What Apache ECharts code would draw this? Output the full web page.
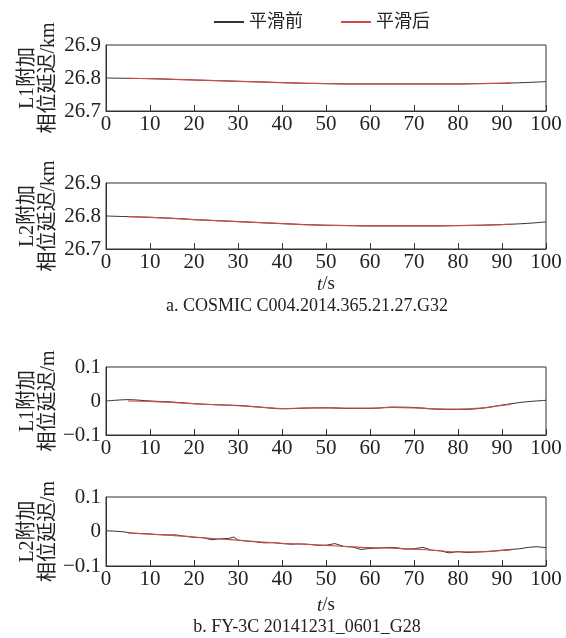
<!DOCTYPE html>
<html lang="zh">
<head>
    <meta charset="UTF-8">
    <title>平滑前后附加相位延迟</title>
    <script src="https://cdn.jsdelivr.net/npm/echarts@6/dist/echarts.min.js"></script>
    <style>
        html, body { margin: 0; padding: 0; background: #fff; }
        #chart { width: 566px; height: 638px; }
    </style>
</head>
<body>
    <div id="chart"></div>
    <script>
        // 时间轴 (s)
        const tRaw = [0, 5, 10, 15, 20, 25, 30, 35, 40, 45, 50, 55, 60, 65, 70, 75, 80, 85, 90, 95, 100];
        const tSmooth = [5, 10, 15, 20, 25, 30, 35, 40, 45, 50, 55, 60, 65, 70, 75, 80, 85, 90, 92];
        const tRawDense = [0, 2, 4, 6, 8, 10, 12, 14, 16, 18, 20, 22, 24, 26, 28, 29, 30, 32, 34, 36, 38, 40, 42, 44, 46, 48, 50, 52, 54, 56, 58, 60, 62, 64, 66, 68, 70, 72, 74, 76, 78, 80, 82, 84, 86, 88, 90, 92, 94, 96, 98, 100];

        // a. COSMIC  (km)
        const cosmicL1Raw = [26.800, 26.799, 26.798, 26.796, 26.794, 26.792, 26.790, 26.788, 26.786, 26.784, 26.783, 26.782, 26.782, 26.782, 26.782, 26.782, 26.782, 26.783, 26.784, 26.786, 26.789];
        const cosmicL1Smooth = [26.799, 26.798, 26.796, 26.794, 26.792, 26.790, 26.788, 26.786, 26.784, 26.783, 26.782, 26.782, 26.782, 26.782, 26.782, 26.782, 26.783, 26.784, 26.785];
        const cosmicL2Raw = [26.800, 26.798, 26.796, 26.793, 26.789, 26.786, 26.783, 26.780, 26.777, 26.774, 26.772, 26.771, 26.770, 26.770, 26.770, 26.770, 26.771, 26.772, 26.774, 26.777, 26.782];
        const cosmicL2Smooth = [26.798, 26.796, 26.793, 26.789, 26.786, 26.783, 26.780, 26.777, 26.774, 26.772, 26.771, 26.770, 26.770, 26.770, 26.770, 26.771, 26.772, 26.774, 26.775];

        // b. FY-3C  (m)
        const fyL1Raw = [0.000, 0.004, 0.000, -0.003, -0.008, -0.011, -0.013, -0.018, -0.023, -0.021, -0.020, -0.022, -0.022, -0.018, -0.019, -0.024, -0.025, -0.022, -0.012, -0.003, 0.002];
        const fyL1Smooth = [0.000, -0.001, -0.004, -0.008, -0.011, -0.014, -0.018, -0.022, -0.021, -0.020, -0.021, -0.021, -0.019, -0.020, -0.023, -0.024, -0.021, -0.013, -0.010];
        const fyL2Raw = [0.002, 0.001, -0.001, -0.005, -0.006, -0.007, -0.009, -0.010, -0.010, -0.014, -0.017, -0.018, -0.024, -0.021, -0.020, -0.016, -0.025, -0.028, -0.030, -0.033, -0.032, -0.035, -0.037, -0.036, -0.037, -0.040, -0.040, -0.035, -0.043, -0.045, -0.052, -0.049, -0.048, -0.046, -0.047, -0.051, -0.050, -0.046, -0.054, -0.056, -0.062, -0.058, -0.061, -0.060, -0.058, -0.057, -0.054, -0.052, -0.050, -0.046, -0.044, -0.047];
        const fyL2Smooth = [-0.004, -0.008, -0.011, -0.016, -0.021, -0.025, -0.030, -0.034, -0.037, -0.040, -0.044, -0.047, -0.048, -0.051, -0.055, -0.059, -0.059, -0.055, -0.053];

        const yNames = ['L1附加\n相位延迟/km', 'L2附加\n相位延迟/km', 'L1附加\n相位延迟/m', 'L2附加\n相位延迟/m'];
        const xTicks = [0, 100, 10];
        const yRanges = [[26.7, 26.9], [26.7, 26.9], [-0.1, 0.1], [-0.1, 0.1]];
        const captions = ['a. COSMIC C004.2014.365.21.27.G32', 'b. FY-3C 20141231_0601_G28'];

        const serif = '"Liberation Serif", "Noto Sans CJK SC", serif';
        const gridTops = [45, 183, 367, 497];
        const gridHeights = [66, 66, 68, 69];

        const pair = (xs, ys) => xs.map((x, i) => [x, ys[i]]);

        const grids = gridTops.map((top, i) => ({
            left: 106, right: 20, top: top, height: gridHeights[i],
            show: true, borderColor: '#333', borderWidth: 1
        }));

        const xAxes = gridTops.map((_, i) => ({
            type: 'value', gridIndex: i,
            min: xTicks[0], max: xTicks[1], interval: xTicks[2],
            axisLine: { show: true, onZero: false, lineStyle: { color: '#333', width: 1 } },
            axisTick: { show: true, inside: true, length: 6, lineStyle: { color: '#333' } },
            splitLine: { show: false },
            axisLabel: { color: '#222', fontFamily: serif, fontSize: 21, margin: 3 },
            name: (i === 1 || i === 3) ? '{i|t}/s' : '',
            nameLocation: 'middle', nameGap: i === 1 ? 26 : 30,
            nameMoveOverlap: false,
            nameTextStyle: {
                color: '#222', fontFamily: serif, fontSize: 19,
                rich: { i: { fontStyle: 'italic', fontFamily: serif, fontSize: 19, color: '#222' } }
            }
        }));

        const yAxes = gridTops.map((_, i) => ({
            type: 'value', gridIndex: i,
            min: yRanges[i][0], max: yRanges[i][1], interval: 0.1,
            axisLine: { show: true, onZero: false, lineStyle: { color: '#333', width: 1 } },
            axisTick: { show: false },
            splitLine: { show: false },
            axisLabel: {
                color: '#222', fontFamily: serif, fontSize: 21, margin: 5,
                formatter: v => {
                    if (i < 2) return v.toFixed(1);
                    if (Math.abs(v) < 1e-9) return '0';
                    return v < 0 ? '−' + Math.abs(v).toFixed(1) : v.toFixed(1);
                }
            },
            name: yNames[i], nameLocation: 'middle', nameRotate: 90, nameGap: 47,
            nameMoveOverlap: false,
            nameTextStyle: { color: '#222', fontFamily: serif, fontSize: 20, lineHeight: 21 }
        }));

        const rawSets = [pair(tRaw, cosmicL1Raw), pair(tRaw, cosmicL2Raw), pair(tRaw, fyL1Raw), pair(tRawDense, fyL2Raw)];
        const smoothSets = [pair(tSmooth, cosmicL1Smooth), pair(tSmooth, cosmicL2Smooth), pair(tSmooth, fyL1Smooth), pair(tSmooth, fyL2Smooth)];

        const series = [];
        rawSets.forEach((d, i) => {
            series.push({
                name: '平滑前', type: 'line', xAxisIndex: i, yAxisIndex: i,
                data: d, showSymbol: false, smooth: i < 3 ? 0.3 : false,
                lineStyle: { color: '#333', width: 1 }, itemStyle: { color: '#333' }
            });
        });
        smoothSets.forEach((d, i) => {
            series.push({
                name: '平滑后', type: 'line', xAxisIndex: i, yAxisIndex: i,
                data: d, showSymbol: false, smooth: 0.3,
                lineStyle: { color: '#cf4a4a', width: 1.2 }, itemStyle: { color: '#cf4a4a' }
            });
        });

        const option = {
            backgroundColor: '#fff',
            animation: false,
            legend: {
                data: ['平滑前', '平滑后'],
                left: 209, top: 8,
                itemWidth: 30, itemHeight: 2, itemGap: 38,
                icon: 'rect',
                textStyle: { color: '#222', fontFamily: serif, fontSize: 18 }
            },
            grid: grids,
            xAxis: xAxes,
            yAxis: yAxes,
            series: series,
            graphic: [
                {
                    type: 'text', x: 307, y: 306,
                    style: { text: captions[0], font: '18px ' + serif, fill: '#222', align: 'center', verticalAlign: 'middle' }
                },
                {
                    type: 'text', x: 307, y: 627,
                    style: { text: captions[1], font: '18px ' + serif, fill: '#222', align: 'center', verticalAlign: 'middle' }
                }
            ]
        };

        const chart = echarts.init(document.getElementById('chart'));
        chart.setOption(option);
    </script>
</body>
</html>
